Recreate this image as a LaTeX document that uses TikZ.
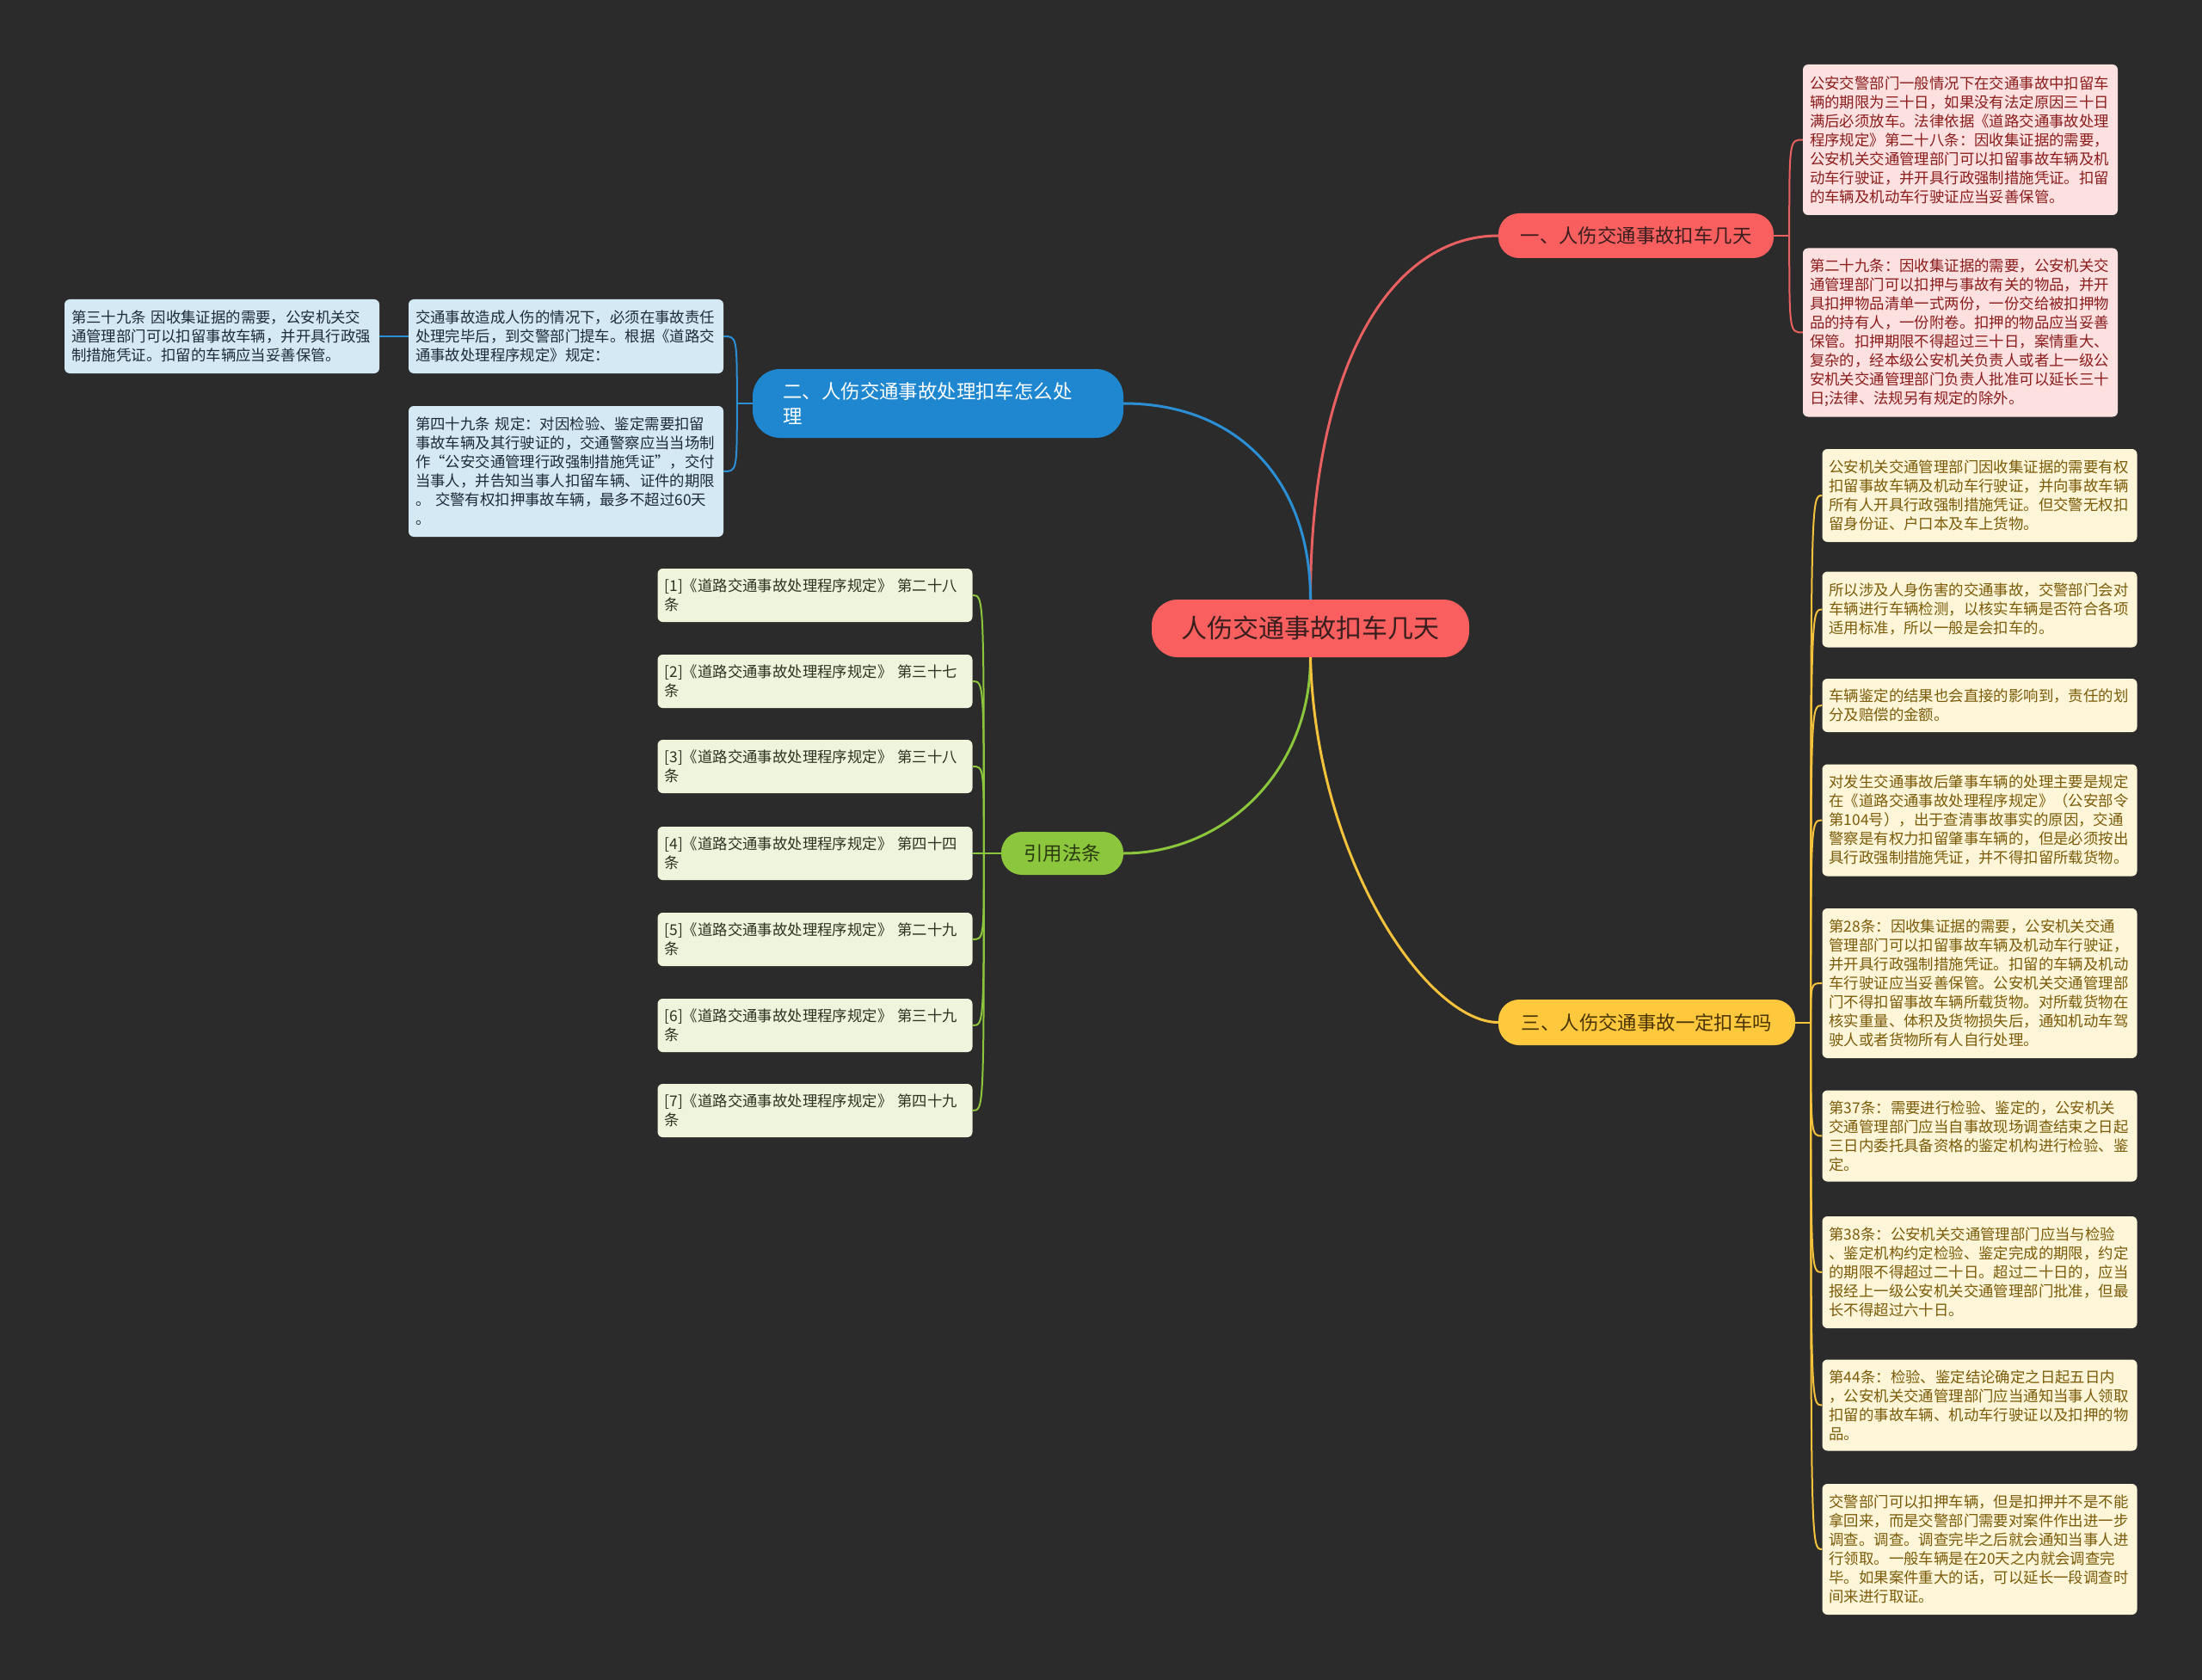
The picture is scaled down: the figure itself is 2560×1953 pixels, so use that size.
\documentclass[tikz,border=0pt]{standalone}
\usepackage{fontspec}
\setmainfont{Noto Sans CJK SC}
\definecolor{bgc}{HTML}{2B2B2B}
\definecolor{rootred}{HTML}{FA5F5F}
\definecolor{roottxt}{HTML}{3A1E1E}
\definecolor{redln}{HTML}{E8605F}
\definecolor{redleaf}{HTML}{FDE1E1}
\definecolor{redtxt}{HTML}{8B1C1C}
\definecolor{bluebr}{HTML}{1E87D0}
\definecolor{blueln}{HTML}{2B8FD5}
\definecolor{blueleaf}{HTML}{D5E9F4}
\definecolor{bluetxt}{HTML}{1E2B38}
\definecolor{greenbr}{HTML}{8CC63C}
\definecolor{greenln}{HTML}{8CC63C}
\definecolor{greenleaf}{HTML}{EEF5DC}
\definecolor{greentxt}{HTML}{2E3322}
\definecolor{yelbr}{HTML}{FFC83D}
\definecolor{yelln}{HTML}{F5C23C}
\definecolor{yelleaf}{HTML}{FFF5D9}
\definecolor{yeltxt}{HTML}{7A5B08}
\definecolor{yelbrtxt}{HTML}{4A3500}
\definecolor{greenbrtxt}{HTML}{2A3A10}
\newcommand\leaffont{\fontsize{17.4pt}{22pt}\selectfont}
\newcommand\brfont{\fontsize{22.4pt}{29pt}\selectfont}
\begin{document}
\begin{tikzpicture}[x=1pt,y=-1pt,
  leafbox/.style={rounded corners=6pt, align=left, text width=350pt, inner xsep=8pt, inner ysep=0pt, font=\leaffont},
  rleaf/.style={leafbox, fill=redleaf, text=redtxt},
  bleaf/.style={leafbox, fill=blueleaf, text=bluetxt},
  gleaf/.style={leafbox, fill=greenleaf, text=greentxt, minimum height=62pt},
  yleaf/.style={leafbox, fill=yelleaf, text=yeltxt},
  brbox/.style={inner sep=0pt, font=\brfont},
  mainln/.style={line width=3pt},
  leafln/.style={line width=2pt}
]
\useasboundingbox (0,0) rectangle (2560,1953);
\fill[bgc] (0,0) rectangle (2560,1953);

% root and branches
\node[fill=rootred, text=roottxt, rounded corners=30pt, minimum width=369pt, minimum height=67pt, inner sep=0pt, font=\fontsize{30pt}{36pt}\selectfont] (root) at (1523.5,730.5) {人伤交通事故扣车几天};
\node[brbox, fill=rootred, text=roottxt, rounded corners=24pt, minimum width=320pt, minimum height=52pt] (b1) at (1902,274) {一、人伤交通事故扣车几天};
\node[brbox, fill=bluebr, text=white, rounded corners=32pt, minimum width=431pt, minimum height=80pt, align=left, text width=360pt] (b2) at (1090.5,469) {二、人伤交通事故处理扣车怎么处\\理};
\node[brbox, fill=yelbr, text=yelbrtxt, rounded corners=24pt, minimum width=345pt, minimum height=53pt] (b3) at (1914.5,1188.5) {三、人伤交通事故一定扣车吗};
\node[brbox, fill=greenbr, text=greenbrtxt, rounded corners=24pt, minimum width=142pt, minimum height=50pt] (bg) at (1235,992) {引用法条};

% red leaves
\node[rleaf, minimum height=175pt] (r1) at (2279,162.5) {公安交警部门一般情况下在交通事故中扣留车\\辆的期限为三十日，如果没有法定原因三十日\\满后必须放车。法律依据《道路交通事故处理\\程序规定》第二十八条：因收集证据的需要，\\公安机关交通管理部门可以扣留事故车辆及机\\动车行驶证，并开具行政强制措施凭证。扣留\\的车辆及机动车行驶证应当妥善保管。};
\node[rleaf, minimum height=196pt] (r2) at (2279,386.5) {第二十九条：因收集证据的需要，公安机关交\\通管理部门可以扣押与事故有关的物品，并开\\具扣押物品清单一式两份，一份交给被扣押物\\品的持有人，一份附卷。扣押的物品应当妥善\\保管。扣押期限不得超过三十日，案情重大、\\复杂的，经本级公安机关负责人或者上一级公\\安机关交通管理部门负责人批准可以延长三十\\日;法律、法规另有规定的除外。};

% blue leaves
\node[bleaf, minimum height=86pt] (l1) at (258,391) {第三十九条 因收集证据的需要，公安机关交\\通管理部门可以扣留事故车辆，并开具行政强\\制措施凭证。扣留的车辆应当妥善保管。};
\node[bleaf, minimum height=86pt] (l2) at (658,391) {交通事故造成人伤的情况下，必须在事故责任\\处理完毕后，到交警部门提车。根据《道路交\\通事故处理程序规定》规定：};
\node[bleaf, minimum height=152pt] (l3) at (658,548) {第四十九条 规定：对因检验、鉴定需要扣留\\事故车辆及其行驶证的，交通警察应当当场制\\作“公安交通管理行政强制措施凭证”，交付\\当事人，并告知当事人扣留车辆、证件的期限\\。\ 交警有权扣押事故车辆，最多不超过60天\\。};

% green leaves
\node[gleaf] (g1) at (947.5,692) {[1]《道路交通事故处理程序规定》 第二十八\\条};
\node[gleaf] (g2) at (947.5,792) {[2]《道路交通事故处理程序规定》 第三十七\\条};
\node[gleaf] (g3) at (947.5,891) {[3]《道路交通事故处理程序规定》 第三十八\\条};
\node[gleaf] (g4) at (947.5,992) {[4]《道路交通事故处理程序规定》 第四十四\\条};
\node[gleaf] (g5) at (947.5,1092) {[5]《道路交通事故处理程序规定》 第二十九\\条};
\node[gleaf] (g6) at (947.5,1192) {[6]《道路交通事故处理程序规定》 第三十九\\条};
\node[gleaf] (g7) at (947.5,1291) {[7]《道路交通事故处理程序规定》 第四十九\\条};

% yellow leaves
\node[yleaf, minimum height=108pt] (y1) at (2301.5,576) {公安机关交通管理部门因收集证据的需要有权\\扣留事故车辆及机动车行驶证，并向事故车辆\\所有人开具行政强制措施凭证。但交警无权扣\\留身份证、户口本及车上货物。};
\node[yleaf, minimum height=88pt] (y2) at (2301.5,708.5) {所以涉及人身伤害的交通事故，交警部门会对\\车辆进行车辆检测，以核实车辆是否符合各项\\适用标准，所以一般是会扣车的。};
\node[yleaf, minimum height=62pt] (y3) at (2301.5,820) {车辆鉴定的结果也会直接的影响到，责任的划\\分及赔偿的金额。};
\node[yleaf, minimum height=130pt] (y4) at (2301.5,953.5) {对发生交通事故后肇事车辆的处理主要是规定\\在《道路交通事故处理程序规定》（公安部令\\第104号），出于查清事故事实的原因，交通\\警察是有权力扣留肇事车辆的，但是必须按出\\具行政强制措施凭证，并不得扣留所载货物。};
\node[yleaf, minimum height=174pt] (y5) at (2301.5,1143) {第28条：因收集证据的需要，公安机关交通\\管理部门可以扣留事故车辆及机动车行驶证，\\并开具行政强制措施凭证。扣留的车辆及机动\\车行驶证应当妥善保管。公安机关交通管理部\\门不得扣留事故车辆所载货物。对所载货物在\\核实重量、体积及货物损失后，通知机动车驾\\驶人或者货物所有人自行处理。};
\node[yleaf, minimum height=106pt] (y6) at (2301.5,1320.5) {第37条：需要进行检验、鉴定的，公安机关\\交通管理部门应当自事故现场调查结束之日起\\三日内委托具备资格的鉴定机构进行检验、鉴\\定。};
\node[yleaf, minimum height=130pt] (y7) at (2301.5,1479) {第38条：公安机关交通管理部门应当与检验\\、鉴定机构约定检验、鉴定完成的期限，约定\\的期限不得超过二十日。超过二十日的，应当\\报经上一级公安机关交通管理部门批准，但最\\长不得超过六十日。};
\node[yleaf, minimum height=106pt] (y8) at (2301.5,1633.5) {第44条：检验、鉴定结论确定之日起五日内\\，公安机关交通管理部门应当通知当事人领取\\扣留的事故车辆、机动车行驶证以及扣押的物\\品。};
\node[yleaf, minimum height=152pt] (y9) at (2301.5,1801) {交警部门可以扣押车辆，但是扣押并不是不能\\拿回来，而是交警部门需要对案件作出进一步\\调查。调查。调查完毕之后就会通知当事人进\\行领取。一般车辆是在20天之内就会调查完\\毕。如果案件重大的话，可以延长一段调查时\\间来进行取证。};

% main connectors
\begin{scope}[on background layer/.style={}]
\end{scope}
\draw[mainln, redln] (root.north) .. controls +(0,-277) and +(-122,0) .. (b1.west);
\draw[mainln, blueln] (root.north) .. controls +(0,-137) and +(134,0) .. (b2.east);
\draw[mainln, greenln] (root.south) .. controls +(0,136) and +(114,0) .. (bg.east);
\draw[mainln, yelln] (root.south) .. controls +(6,236) and +(-82,0) .. (b3.west);

% red leaf connectors
\draw[leafln, redln] (b1.east) -- ++(18,0) coordinate (jr);
\foreach \n in {r1,r2}
  \draw[leafln, redln] (jr) .. controls (jr |- \n.west) .. (\n.west);
% blue
\draw[leafln, blueln] (b2.west) -- ++(-18,0) coordinate (jb);
\foreach \n in {l2,l3}
  \draw[leafln, blueln] (jb) .. controls (jb |- \n.east) .. (\n.east);
\draw[leafln, blueln] (l2.west) -- (l1.east);
% green
\draw[leafln, greenln] (bg.west) -- ++(-20,0) coordinate (jg);
\foreach \n in {g1,g2,g3,g4,g5,g6,g7}
  \draw[leafln, greenln] (jg) .. controls (jg |- \n.east) .. (\n.east);
% yellow
\draw[leafln, yelln] (b3.east) -- ++(18,0) coordinate (jy);
\foreach \n in {y1,y2,y3,y4,y5,y6,y7,y8,y9}
  \draw[leafln, yelln] (jy) .. controls (jy |- \n.west) .. (\n.west);
\end{tikzpicture}
\end{document}
